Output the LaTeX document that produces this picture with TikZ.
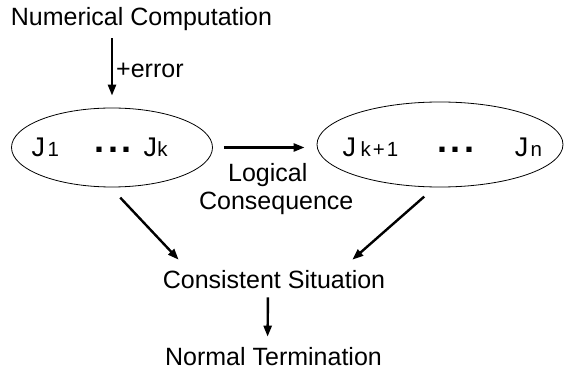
\documentclass[tikz,border=0pt]{standalone}
\usepackage{fontspec}
\setmainfont{Liberation Sans}
\usetikzlibrary{
  arrows.meta,
  positioning,
  shapes.geometric
}
% J with a subscript: #1 = gap, #2 = index
\newcommand\jsub[2]{{\fontsize{27}{27}\selectfont J}\hspace{#1}{\fontsize{20.5}{20}\selectfont #2}}
% bold dots, #1 = gap between them
\newcommand\middots[1]{{\fontsize{36}{36}\selectfont\raisebox{4pt}{\textbf{.\hspace{#1}.\hspace{#1}.}}}}
\tikzset{
%
  % For all texts.
  txt/.style={
    font=\fontsize{25}{28}\selectfont,
    inner sep=2pt},
%
  % For the thick arrows.
  flow/.style={
    line width=2.4pt,
    -{Triangle[length=11pt,
               width=8pt]}},
%
  % For the sets of J's.
  set/.style={
    ellipse,
    draw,
    line width=0.8pt,
    inner sep=0pt}
}

\begin{document}
\begin{tikzpicture}[x=1pt,y=-1pt]
  \useasboundingbox (0,0) rectangle (565,371);

  \node[txt, anchor=base] (NC) at (141.5,26) {Numerical Computation};
  \node[set, minimum width=201pt, minimum height=79pt] (A) at (112,147.5) {};
  \node[set, minimum width=246pt, minimum height=85pt] (B) at (440,144.5) {};
  \node[txt, anchor=base west, inner sep=0pt] (JA) at (31.5,157)
    {\jsub{2.5pt}{1}\hspace{35.5pt}\middots{3.5pt}\hspace{12pt}\jsub{0.3pt}{k}};
  \node[txt, anchor=base west, inner sep=0pt] (JB) at (342.5,157)
    {\jsub{4.5pt}{k\hspace{2pt}+\hspace{2pt}1}\hspace{39pt}\middots{3.5pt}\hspace{40.5pt}\jsub{2.2pt}{n}};
  \node[txt, anchor=base] (CS) at (274,289) {Consistent Situation};
  \node[txt, anchor=base] (NT) at (273.5,366) {Normal Termination};

  \draw[flow, shorten <=5pt, shorten >=12pt] (NC.south -| A.north) -- (A.north)
    node[txt, right, midway, xshift=1pt] {+error};
  \draw[flow, shorten <=11pt, shorten >=12pt] (A.east) -- (A.east -| B.west)
    node[txt, anchor=north west, inner sep=0pt, align=left,
         at start, xshift=-15pt, yshift=-15pt] (LC)
         {\hspace*{29pt}Logical\\Consequence};
  \draw[flow, shorten <=14pt] (A.268) -- ([xshift=18pt,yshift=9pt]CS.north west);
  \draw[flow, shorten <=14pt] (B.263) -- ([xshift=-35pt,yshift=9pt]CS.north east);
  \draw[flow, shorten <=6pt, shorten >=9pt]
    ([xshift=-6pt]CS.south) -- ([xshift=-6pt]NT.north);
\end{tikzpicture}
\end{document}
